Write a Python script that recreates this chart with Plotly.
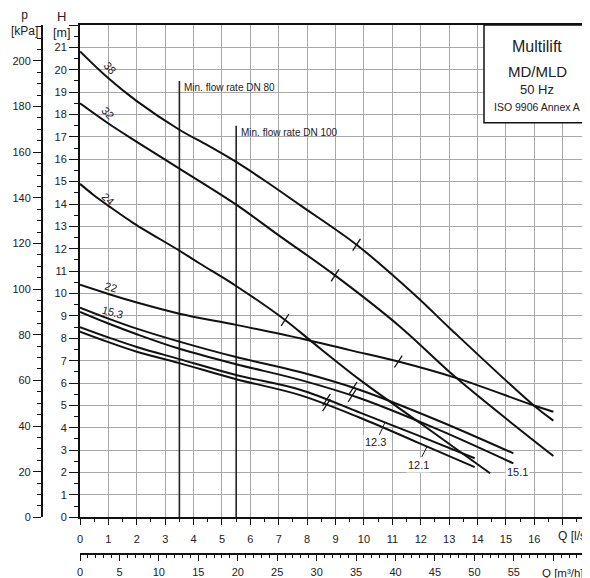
import numpy as np
import plotly.graph_objects as go

# ---------------- data ----------------
curve_names = ["38", "32", "24", "22", "15.3", "15.1", "12.3", "12.1"]

q_38 = [0, 1, 2, 3.5, 4.5, 5.5, 6.5, 7.75, 9.74, 11.85, 13.03, 15.96, 16.67]
h_38 = [20.82, 19.62, 18.6, 17.32, 16.62, 15.88, 15.05, 13.95, 12.18, 9.87, 8.44, 5.02, 4.32]

q_32 = [0, 1, 2, 3.5, 5.5, 7.0, 8.98, 11.27, 13.26, 16.67]
h_32 = [18.5, 17.6, 16.78, 15.58, 13.97, 12.6, 10.81, 8.52, 6.22, 2.74]

q_24 = [0, 0.5, 1, 1.88, 3.52, 4.23, 5.47, 7.22, 8.16, 9.86, 12.0, 14.44]
h_24 = [14.9, 14.38, 13.92, 13.15, 11.9, 11.33, 10.36, 8.82, 7.85, 6.14, 4.19, 1.97]

q_22 = [0, 1, 2, 3.5, 5.5, 7.75, 9.5, 11.21, 13.26, 15.96, 16.67]
h_22 = [10.39, 9.98, 9.6, 9.1, 8.6, 8.0, 7.47, 6.96, 6.22, 5.01, 4.72]

q_153 = [0, 1, 2, 3.5, 5.5, 7.75, 9.86, 12.56, 15.26]
h_153 = [9.37, 8.88, 8.43, 7.85, 7.16, 6.49, 5.69, 4.35, 2.86]

q_151 = [0, 1, 2, 3.5, 5.5, 7.75, 9.86, 12.56, 15.26]
h_151 = [9.18, 8.66, 8.18, 7.53, 6.84, 6.14, 5.32, 3.95, 2.41]

q_123 = [0, 1, 2, 3.5, 5.5, 7.75, 9.86, 11.9, 13.9]
h_123 = [8.5, 8.04, 7.61, 7.07, 6.36, 5.7, 4.68, 3.66, 2.64]

q_121 = [0, 1, 2, 3.5, 5.5, 7.75, 9.86, 11.9, 13.9]
h_121 = [8.3, 7.83, 7.4, 6.89, 6.17, 5.46, 4.45, 3.34, 2.24]

curves_q = [q_38, q_32, q_24, q_22, q_153, q_151, q_123, q_121]
curves_h = [h_38, h_32, h_24, h_22, h_153, h_151, h_123, h_121]

# best-efficiency tick marks (flow on each curve)
tick_q = [9.74, 8.98, 7.22, 11.21, 9.62, 9.58, 8.68, 8.68]

# minimum flow lines
minflow_q = [3.5, 5.5]
minflow_top = [19.5, 17.5]
minflow_labels = ["Min. flow rate DN 80", "Min. flow rate DN 100"]

# curve labels
label_txt = ["38", "32", "24", "22", "15.3", "15.1"]
label_q = [1.06, 0.99, 0.99, 1.09, 1.13, 15.39]
label_h = [20.09, 18.08, 14.23, 10.3, 9.18, 2.03]
label_ang = [49, 49, 45, 15, 15, 0]

# leader labels (touch Q on curve)
leader_txt = ["12.3", "12.1"]
leader_q = [10.74, 12.22]

q_ticks = list(range(0, 18))
h_ticks = list(range(0, 23))
p_ticks = list(range(0, 201, 20))
m3h_ticks = list(range(0, 61, 5))

KPA_PER_M = 9.80665
M3H_PER_LS = 3.6
Q_MAX = 17.96
H_MAX = 22

# ---------------- layout helpers ----------------
# the page body has an 8px margin, so the figure is drawn 8px smaller and
# all screen pixel positions are mapped accordingly
OFF = 8
W, HP = 590 - OFF, 578 - OFF
ML, MT = 20 - OFF, 25 - OFF
def pxx(px):
    return (px - OFF - ML) / (W - ML)
def pxy(py):
    return (HP - (py - OFF)) / (HP - MT)

FONT = "Liberation Sans, Arial, sans-serif"
BLACK = "#111111"

fig = go.Figure()

# min flow lines
for q, top in zip(minflow_q, minflow_top):
    fig.add_trace(go.Scatter(x=[q, q], y=[0, top], mode="lines",
                             line=dict(color="#222222", width=1.6),
                             hoverinfo="skip", showlegend=False))

# pump curves
for name, q, h in zip(curve_names, curves_q, curves_h):
    fig.add_trace(go.Scatter(x=q, y=h, mode="lines", name=name,
                             line=dict(color=BLACK, width=2, shape="spline", smoothing=1.0),
                             showlegend=False))

# tick marks
for q, h, tq in zip(curves_q, curves_h, tick_q):
    th = float(np.interp(tq, q, h))
    fig.add_trace(go.Scatter(x=[tq], y=[th], mode="markers",
                             marker=dict(symbol="line-ne", size=10, angle=-12,
                                         line=dict(color=BLACK, width=1.3)),
                             hoverinfo="skip", showlegend=False))

# dummy trace for the secondary axes
fig.add_trace(go.Scatter(x=[None], y=[None], xaxis="x2", yaxis="y2",
                         hoverinfo="skip", showlegend=False))

annotations = []
for t, q, h, a in zip(label_txt, label_q, label_h, label_ang):
    annotations.append(dict(x=q, y=h, xref="x", yref="y", text=t, showarrow=False,
                            textangle=a, font=dict(family=FONT, size=11, color="#222"),
                            bgcolor="white" if t == "15.1" else None))
for t, lq, ax, ay in zip(leader_txt, leader_q, [-9, -9], [20, 18]):
    idx = curve_names.index(t)
    lh = float(np.interp(lq, curves_q[idx], curves_h[idx]))
    annotations.append(dict(x=lq, y=lh, xref="x", yref="y", text=t, showarrow=True,
                            arrowhead=0, arrowwidth=1, arrowcolor="#222", standoff=0,
                            ax=ax, ay=ay, font=dict(family=FONT, size=11, color="#222"),
                            bgcolor="white"))
for q, top, t in zip(minflow_q, minflow_top, minflow_labels):
    annotations.append(dict(x=q, y=top, xref="x", yref="y", text=t, showarrow=False,
                            xanchor="left", yanchor="top", xshift=3, yshift=1,
                            font=dict(family=FONT, size=10, color="#222")))

# box texts
box_cx = pxx(537.3)
for txt, py, sz in [("Multilift", 46.7, 16), ("MD/MLD", 71.7, 15),
                    ("50 Hz", 89.3, 13), ("ISO 9906 Annex A", 107.3, 10.5)]:
    annotations.append(dict(x=box_cx, y=pxy(py), xref="paper", yref="paper", text=txt,
                            showarrow=False, xanchor="center", yanchor="middle",
                            font=dict(family=FONT, size=sz, color="#222")))

# axis titles
for txt, px, py, sz, xa in [("p<br>[kPa]", 24, 22.5, 12, "center"),
                            ("H", 62, 16, 13, "center"), ("[m]", 62, 33, 12.5, "center"),
                            ("Q [l/s]", 556, 536, 12, "left"),
                            ("Q [m³/h]", 540, 573, 11.5, "left")]:
    annotations.append(dict(x=pxx(px), y=pxy(py), xref="paper", yref="paper", text=txt,
                            showarrow=False, xanchor=xa, yanchor="middle",
                            font=dict(family=FONT, size=sz, color="#222")))

tickfont = dict(family=FONT, size=11, color="#222")
GRID = "#a8a8a8"

fig.update_layout(
    width=W, height=HP,
    margin=dict(l=ML, r=0, t=MT, b=0, pad=0, autoexpand=False),
    paper_bgcolor="white", plot_bgcolor="white",
    showlegend=False,
    xaxis=dict(domain=[pxx(80), 1], range=[0, Q_MAX], tickmode="array", automargin=False,
               tickvals=q_ticks, ticktext=[str(v) if v < 17 else "" for v in q_ticks],
               ticks="outside", ticklen=6, tickwidth=1.3, tickcolor=BLACK,
               showline=True, linewidth=2, linecolor=BLACK, mirror=True,
               showgrid=True, gridcolor=GRID, gridwidth=1, zeroline=False,
               tickfont=tickfont, ticklabelstandoff=4,
               minor=dict(tickmode="array", tickvals=[v + 0.5 for v in q_ticks],
                          ticks="outside", ticklen=3, tickcolor=BLACK, tickwidth=1,
                          showgrid=False)),
    yaxis=dict(domain=[pxy(517.3), 1], range=[0, H_MAX], tickmode="array", automargin=False,
               tickvals=h_ticks, ticktext=[str(v) if v < 22 else "" for v in h_ticks],
               ticks="outside", ticklen=9, tickwidth=1.3, tickcolor=BLACK,
               showline=True, linewidth=2, linecolor=BLACK,
               showgrid=True, gridcolor=GRID, gridwidth=1, zeroline=False,
               tickfont=tickfont,
               minor=dict(tickmode="array", tickvals=[v + 0.5 for v in h_ticks[:-1]],
                          ticks="outside", ticklen=4, tickcolor=BLACK, tickwidth=1,
                          showgrid=False)),
    yaxis2=dict(overlaying="y", anchor="free", position=pxx(41.7), side="left",
                automargin=False,
                range=[0, H_MAX * KPA_PER_M], tickmode="array", tickvals=p_ticks,
                ticks="outside", ticklen=8, tickwidth=1.3, tickcolor=BLACK,
                showline=True, linewidth=1.5, linecolor=BLACK, showgrid=False,
                zeroline=False, tickfont=tickfont,
                minor=dict(tickmode="array", tickvals=[v for v in range(5, 216, 5) if v % 20],
                           ticks="outside", ticklen=4, tickcolor=BLACK, tickwidth=1,
                           showgrid=False)),
    xaxis2=dict(overlaying="x", anchor="free", position=pxy(554.3), side="bottom",
                automargin=False,
                range=[0, Q_MAX * M3H_PER_LS], tickmode="array", tickvals=m3h_ticks,
                ticktext=[str(v) if v < 60 else "" for v in m3h_ticks],
                ticks="outside", ticklen=6, tickwidth=1.3, tickcolor=BLACK,
                showline=True, linewidth=1.5, linecolor=BLACK, showgrid=False,
                zeroline=False, tickfont=tickfont, ticklabelstandoff=2,
                minor=dict(tickmode="array", tickvals=[v for v in range(1, 65) if v % 5],
                           ticks="outside", ticklen=3, tickcolor=BLACK, tickwidth=1,
                           showgrid=False)),
    annotations=annotations,
    shapes=[dict(type="rect", xref="paper", yref="paper",
                 x0=pxx(484), x1=1.03, y0=pxy(122.7), y1=1,
                 line=dict(color=BLACK, width=1.5), fillcolor="white", layer="above")],
)

fig.write_html("out.html")
